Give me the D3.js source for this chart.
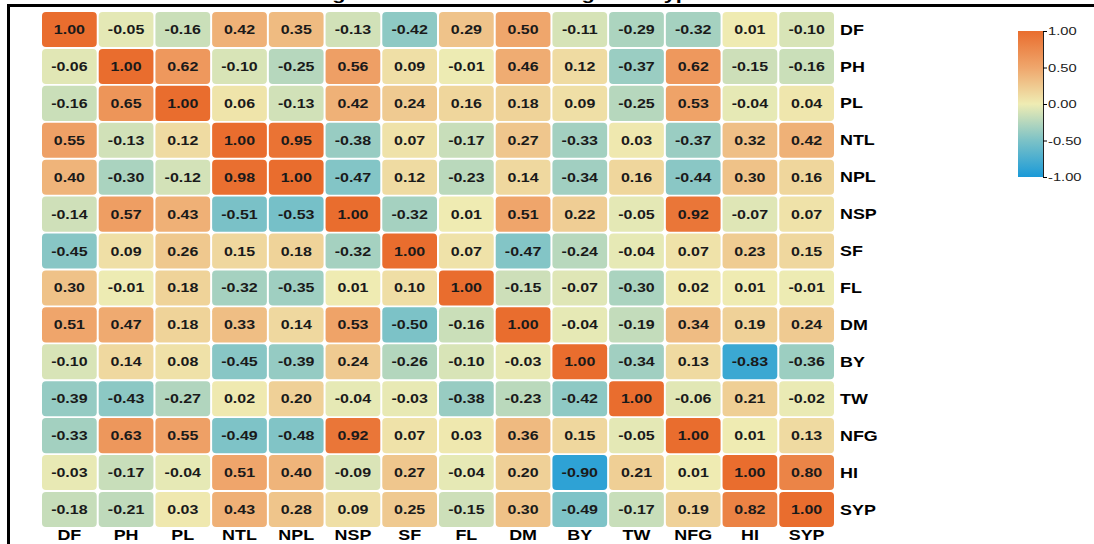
<!DOCTYPE html>
<html>
<head>
<meta charset="utf-8">
<script src="https://cdn.jsdelivr.net/npm/d3@7"></script>
<style>
  body { margin: 0; background: #fff; }
  text { font-family: "Liberation Sans", Arial, sans-serif; }
</style>
</head>
<body>
<div class="main"></div>
<script>
// trait names (rows and columns share the same order)
var traits = ["DF", "PH", "PL", "NTL", "NPL", "NSP", "SF", "FL", "DM", "BY", "TW", "NFG", "HI", "SYP"];

// correlation values, one row per trait
var rowDF  = [1.00, -0.05, -0.16, 0.42, 0.35, -0.13, -0.42, 0.29, 0.50, -0.11, -0.29, -0.32, 0.01, -0.10];
var rowPH  = [-0.06, 1.00, 0.62, -0.10, -0.25, 0.56, 0.09, -0.01, 0.46, 0.12, -0.37, 0.62, -0.15, -0.16];
var rowPL  = [-0.16, 0.65, 1.00, 0.06, -0.13, 0.42, 0.24, 0.16, 0.18, 0.09, -0.25, 0.53, -0.04, 0.04];
var rowNTL = [0.55, -0.13, 0.12, 1.00, 0.95, -0.38, 0.07, -0.17, 0.27, -0.33, 0.03, -0.37, 0.32, 0.42];
var rowNPL = [0.40, -0.30, -0.12, 0.98, 1.00, -0.47, 0.12, -0.23, 0.14, -0.34, 0.16, -0.44, 0.30, 0.16];
var rowNSP = [-0.14, 0.57, 0.43, -0.51, -0.53, 1.00, -0.32, 0.01, 0.51, 0.22, -0.05, 0.92, -0.07, 0.07];
var rowSF  = [-0.45, 0.09, 0.26, 0.15, 0.18, -0.32, 1.00, 0.07, -0.47, -0.24, -0.04, 0.07, 0.23, 0.15];
var rowFL  = [0.30, -0.01, 0.18, -0.32, -0.35, 0.01, 0.10, 1.00, -0.15, -0.07, -0.30, 0.02, 0.01, -0.01];
var rowDM  = [0.51, 0.47, 0.18, 0.33, 0.14, 0.53, -0.50, -0.16, 1.00, -0.04, -0.19, 0.34, 0.19, 0.24];
var rowBY  = [-0.10, 0.14, 0.08, -0.45, -0.39, 0.24, -0.26, -0.10, -0.03, 1.00, -0.34, 0.13, -0.83, -0.36];
var rowTW  = [-0.39, -0.43, -0.27, 0.02, 0.20, -0.04, -0.03, -0.38, -0.23, -0.42, 1.00, -0.06, 0.21, -0.02];
var rowNFG = [-0.33, 0.63, 0.55, -0.49, -0.48, 0.92, 0.07, 0.03, 0.36, 0.15, -0.05, 1.00, 0.01, 0.13];
var rowHI  = [-0.03, -0.17, -0.04, 0.51, 0.40, -0.09, 0.27, -0.04, 0.20, -0.90, 0.21, 0.01, 1.00, 0.80];
var rowSYP = [-0.18, -0.21, 0.03, 0.43, 0.28, 0.09, 0.25, -0.15, 0.30, -0.49, -0.17, 0.19, 0.82, 1.00];
var matrix = [rowDF, rowPH, rowPL, rowNTL, rowNPL, rowNSP, rowSF, rowFL, rowDM, rowBY, rowTW, rowNFG, rowHI, rowSYP];

var legendTicks = [-1, -0.5, 0, 0.5, 1];

var width = 1094, height = 544;
var stretch = 1.28; // the original figure was widened, text looks stretched

function placeText(x, y) {
	return "translate(" + x + "," + y + ") scale(" + stretch + ",1)";
}

var svg = d3.select(".main")
	.append("svg")
	.attr("width", width)
	.attr("height", height);

// title sits mostly above the visible area, only its descenders show
svg.append("text")
	.attr("transform", placeText(495, 0))
	.attr("text-anchor", "middle")
	.style("font-size", "17px")
	.style("font-weight", "bold")
	.text("Strength of Correlation Among Genotypes");

// frame
svg.append("path")
	.attr("d", "M8.5," + height + "V5.5H" + width)
	.attr("fill", "none")
	.attr("stroke", "#000")
	.attr("stroke-width", 3);

var xScale = d3.scaleBand().domain(traits).range([42, 834]).paddingInner(0.035);
var yScale = d3.scaleBand().domain(traits).range([12, 527]).paddingInner(0.05);

var colour = d3.scaleLinear()
	.domain([-1, -0.5, 0, 0.5, 1])
	.range(["#1a9ad8", "#7cc2c7", "#efecb3", "#efa66c", "#e96d2e"])
	.clamp(true);

var cells = [];
matrix.forEach(function(row, i) {
	row.forEach(function(v, j) {
		cells.push({row: traits[i], col: traits[j], value: v});
	});
});

var cellG = svg.append("g").attr("class", "cells")
	.selectAll("g")
	.data(cells)
	.enter()
	.append("g");

cellG.append("rect")
	.attr("x", function(d) { return xScale(d.col); })
	.attr("y", function(d) { return yScale(d.row); })
	.attr("width", xScale.bandwidth())
	.attr("height", yScale.bandwidth())
	.attr("rx", 4)
	.style("fill", function(d) { return colour(d.value); });

cellG.append("text")
	.attr("transform", function(d) {
		return placeText(xScale(d.col) + xScale.bandwidth() / 2, yScale(d.row) + yScale.bandwidth() / 2);
	})
	.attr("dy", "0.36em")
	.attr("text-anchor", "middle")
	.style("font-size", "12.5px")
	.style("font-weight", "bold")
	.style("fill", "#1a1a1a")
	.text(function(d) { return d.value.toFixed(2); });

// row labels on the right
svg.append("g").selectAll("text")
	.data(traits)
	.enter()
	.append("text")
	.attr("transform", function(d) { return placeText(840, yScale(d) + yScale.bandwidth() / 2); })
	.attr("dy", "0.36em")
	.style("font-size", "14px")
	.style("font-weight", "bold")
	.text(function(d) { return d; });

// column labels at the bottom
svg.append("g").selectAll("text")
	.data(traits)
	.enter()
	.append("text")
	.attr("transform", function(d) { return placeText(xScale(d) + xScale.bandwidth() / 2, 540); })
	.attr("text-anchor", "middle")
	.style("font-size", "14px")
	.style("font-weight", "bold")
	.text(function(d) { return d; });

// colour bar legend
var legendScale = d3.scaleLinear().domain([-1, 1]).range([177, 31]);
var grad = svg.append("defs").append("linearGradient")
	.attr("id", "legendGrad")
	.attr("x1", "0").attr("y1", "1").attr("x2", "0").attr("y2", "0");
colour.domain().forEach(function(v) {
	grad.append("stop")
		.attr("offset", ((v + 1) / 2 * 100) + "%")
		.attr("stop-color", colour(v));
});
svg.append("rect")
	.attr("x", 1018)
	.attr("y", legendScale(1))
	.attr("width", 25)
	.attr("height", legendScale(-1) - legendScale(1))
	.style("fill", "url(#legendGrad)");

var legendAxis = d3.axisRight(legendScale)
	.tickValues(legendTicks)
	.tickSize(4)
	.tickFormat(function(d) { return d.toFixed(2); });
var lg = svg.append("g")
	.attr("transform", "translate(1043,0)")
	.call(legendAxis);
lg.select(".domain").attr("stroke", "#222");
lg.selectAll(".tick text")
	.attr("x", null)
	.attr("transform", "translate(5,0) scale(" + stretch + ",1)")
	.attr("dy", "0.32em")
	.style("font-size", "11.5px")
	.style("fill", "#222")
	.style("font-family", "'Liberation Sans', Arial, sans-serif");
</script>
</body>
</html>
